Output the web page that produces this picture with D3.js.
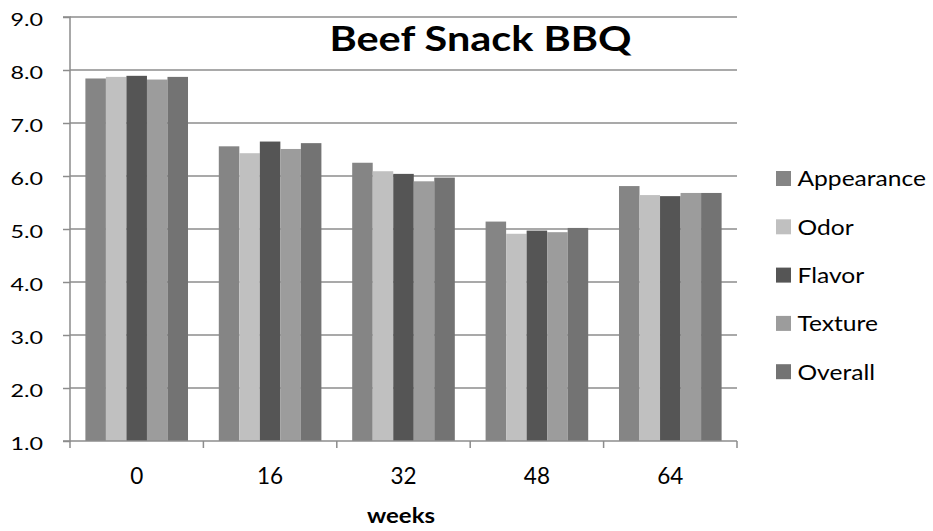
<!DOCTYPE html>
<html><head><meta charset="utf-8">
<script src="https://cdn.jsdelivr.net/npm/d3@7"></script>
<style>body{margin:0;background:#fff}svg{display:block}</style>
</head><body>
<svg id="c" width="933" height="531"></svg>
<script>
const categories = ["0","16","32","48","64"];
const seriesNames = ["Appearance","Odor","Flavor","Texture","Overall"];
const appearance = [7.84, 6.56, 6.25, 5.14, 5.81];
const odor       = [7.87, 6.43, 6.09, 4.91, 5.64];
const flavor     = [7.89, 6.65, 6.04, 4.97, 5.62];
const texture    = [7.82, 6.51, 5.90, 4.94, 5.68];
const overall    = [7.87, 6.62, 5.97, 5.02, 5.68];
const yTicks = [1,2,3,4,5,6,7,8,9];
const colors = ["#858585","#c0c0c0","#555555","#9c9c9c","#737373"];
const seriesValues = [appearance, odor, flavor, texture, overall];

(function(){
const svg = d3.select("#c");
const L = 70, R = 737, T = 17, B = 441;
const font = "Lato, 'Open Sans', sans-serif";
function stretch(sel, k) {
  sel.each(function(){
    const w = this.getComputedTextLength();
    d3.select(this).attr("textLength", w*k).attr("lengthAdjust","spacingAndGlyphs");
  });
}

const x0 = d3.scaleBand().domain(categories).range([L, R]).paddingInner(0).paddingOuter(0);
const gapFrac = 1.5/6.5;
const x1 = d3.scaleBand().domain(seriesNames)
  .range([x0.bandwidth()*gapFrac/2, x0.bandwidth()*(1-gapFrac/2)]).padding(0);
const y = d3.scaleLinear().domain([1,9]).range([B, T]);

svg.append("g").selectAll("line").data(yTicks.filter(d=>d>1)).join("line")
  .attr("x1", L).attr("x2", R).attr("y1", d=>y(d)).attr("y2", d=>y(d))
  .attr("stroke", "#8c8c8c").attr("stroke-width", 1.5);

const g = svg.append("g");
categories.forEach((c, i) => {
  seriesNames.forEach((s, j) => {
    const v = seriesValues[j][i];
    g.append("rect")
      .attr("x", x0(c) + x1(s)).attr("width", x1.bandwidth())
      .attr("y", y(v)).attr("height", y(1) - y(v))
      .attr("fill", colors[j]);
  });
});

const ya = d3.axisLeft(y).tickValues(yTicks).tickFormat(d3.format(".1f")).tickSize(7).tickPadding(18);
const yg = svg.append("g").attr("transform", `translate(${L},0)`).call(ya);
yg.select(".domain").attr("stroke", "#8c8c8c").attr("stroke-width", 1.5).attr("d", `M-7,${T}H0V${B}H-7`);
yg.selectAll(".tick line").attr("stroke", "#8c8c8c").attr("stroke-width", 1.5);
yg.selectAll(".tick text").attr("font-family", font).attr("font-size", 17.5).attr("fill", "#000")
  .attr("text-anchor","start").attr("x", -59.5).attr("dy", null).attr("y", 8.7)
  .attr("textLength", 32.5).attr("lengthAdjust","spacingAndGlyphs");

const xg = svg.append("g").attr("transform", `translate(0,${B})`);
xg.append("line").attr("x1", L).attr("x2", R).attr("y1", 0).attr("y2", 0).attr("stroke", "#8c8c8c").attr("stroke-width", 1.5);
const bounds = categories.map(c => x0(c)).concat([R]);
xg.selectAll("line.t").data(bounds).join("line").attr("class","t")
  .attr("x1", d=>d).attr("x2", d=>d).attr("y1", 0).attr("y2", 7)
  .attr("stroke", "#8c8c8c").attr("stroke-width", 1.5);
const xt = xg.selectAll("text").data(categories).join("text")
  .attr("x", d => x0(d) + x0.bandwidth()/2).attr("y", 42.5)
  .attr("text-anchor","middle").attr("font-family", font).attr("font-size", 22.5).attr("fill","#000")
  .text(d=>d);
stretch(xt, 1.0);

const wk = svg.append("text").attr("x", 401).attr("y", 523).attr("text-anchor","middle")
  .attr("font-family", font).attr("font-size", 20.5).attr("font-weight","bold").text("weeks");
wk.attr("textLength", 68).attr("lengthAdjust","spacingAndGlyphs");

const tt = svg.append("text").attr("x", 480.5).attr("y", 51).attr("text-anchor","middle")
  .attr("font-family", font).attr("font-size", 34).attr("font-weight","bold").text("Beef Snack BBQ");
tt.attr("textLength", 302).attr("lengthAdjust","spacingAndGlyphs");

const lg = svg.append("g");
seriesNames.forEach((s, j) => {
  const cy = 178.5 + j*48.3;
  lg.append("rect").attr("x", 776).attr("y", cy-7.5).attr("width", 15).attr("height", 15).attr("fill", colors[j]);
  const t = lg.append("text").attr("x", 797.5).attr("y", cy + 7.8)
    .attr("font-family", font).attr("font-size", 21).attr("fill","#000").text(s);
  stretch(t, 1.17);
});
})();
</script>
</body></html>
